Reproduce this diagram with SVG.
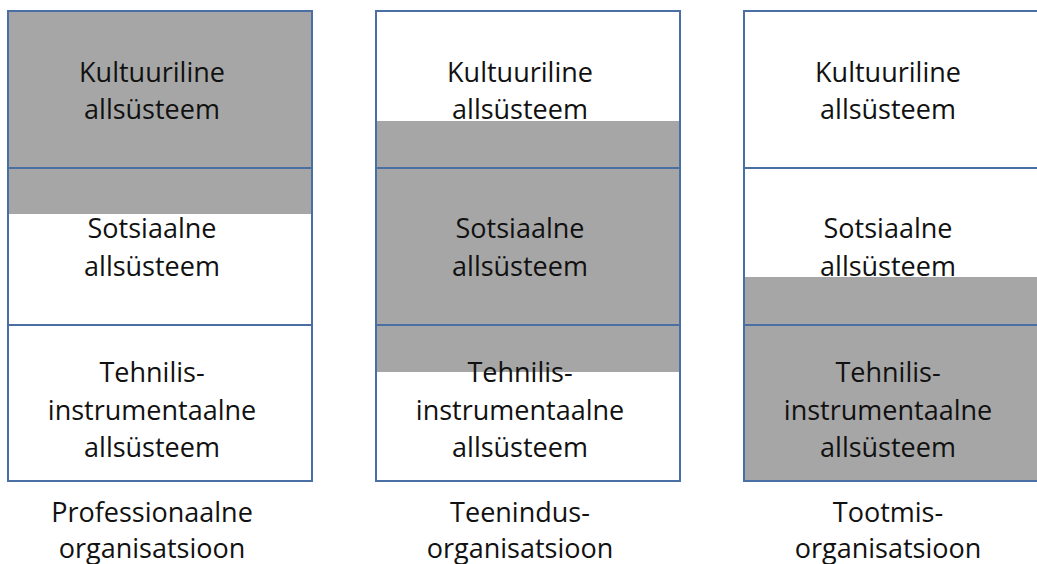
<svg xmlns="http://www.w3.org/2000/svg" width="1037" height="564" viewBox="0 0 1037 564">
  <style>
    .frame { fill: none; stroke: #4A6FA5; stroke-width: 2; }
    .sep { stroke: #4A6FA5; stroke-width: 2; }
    .shade { fill: #A6A6A6; }
    text { font-family: "Open Sans", "Noto Sans", "DejaVu Sans", sans-serif; font-size: 27px; fill: #111111; text-anchor: middle; }
  </style>
  <rect x="0" y="0" width="1037" height="564" fill="#ffffff"/>

  <!-- Professional organisation -->
  <g id="professionaalne">
    <text x="152" y="238">Sotsiaalne</text>
    <rect class="shade" x="8" y="11" width="304" height="203"/>
    <text x="152" y="82">Kultuuriline</text>
    <text x="152" y="119">allsüsteem</text>
    <text x="152" y="276">allsüsteem</text>
    <text x="152" y="382">Tehnilis-</text>
    <text x="152" y="420">instrumentaalne</text>
    <text x="152" y="457">allsüsteem</text>
    <rect class="frame" x="8" y="11" width="304" height="470"/>
    <line class="sep" x1="8" y1="168" x2="312" y2="168"/>
    <line class="sep" x1="8" y1="325" x2="312" y2="325"/>
    <text x="152" y="522">Professionaalne</text>
    <text x="152" y="558">organisatsioon</text>
  </g>

  <!-- Service organisation -->
  <g id="teenindus">
    <text x="520" y="82">Kultuuriline</text>
    <text x="520" y="119">allsüsteem</text>
    <rect class="shade" x="376" y="121" width="304" height="251"/>
    <text x="520" y="238">Sotsiaalne</text>
    <text x="520" y="276">allsüsteem</text>
    <text x="520" y="382">Tehnilis-</text>
    <text x="520" y="420">instrumentaalne</text>
    <text x="520" y="457">allsüsteem</text>
    <rect class="frame" x="376" y="11" width="304" height="470"/>
    <line class="sep" x1="376" y1="168" x2="680" y2="168"/>
    <line class="sep" x1="376" y1="325" x2="680" y2="325"/>
    <text x="520" y="522">Teenindus-</text>
    <text x="520" y="558">organisatsioon</text>
  </g>

  <!-- Production organisation -->
  <g id="tootmis">
    <text x="888" y="82">Kultuuriline</text>
    <text x="888" y="119">allsüsteem</text>
    <text x="888" y="238">Sotsiaalne</text>
    <text x="888" y="276">allsüsteem</text>
    <rect class="shade" x="744" y="277" width="304" height="204"/>
    <text x="888" y="382">Tehnilis-</text>
    <text x="888" y="420">instrumentaalne</text>
    <text x="888" y="457">allsüsteem</text>
    <rect class="frame" x="744" y="11" width="304" height="470"/>
    <line class="sep" x1="744" y1="168" x2="1048" y2="168"/>
    <line class="sep" x1="744" y1="325" x2="1048" y2="325"/>
    <text x="888" y="522">Tootmis-</text>
    <text x="888" y="558">organisatsioon</text>
  </g>

  <g id="connectors"/>
</svg>
